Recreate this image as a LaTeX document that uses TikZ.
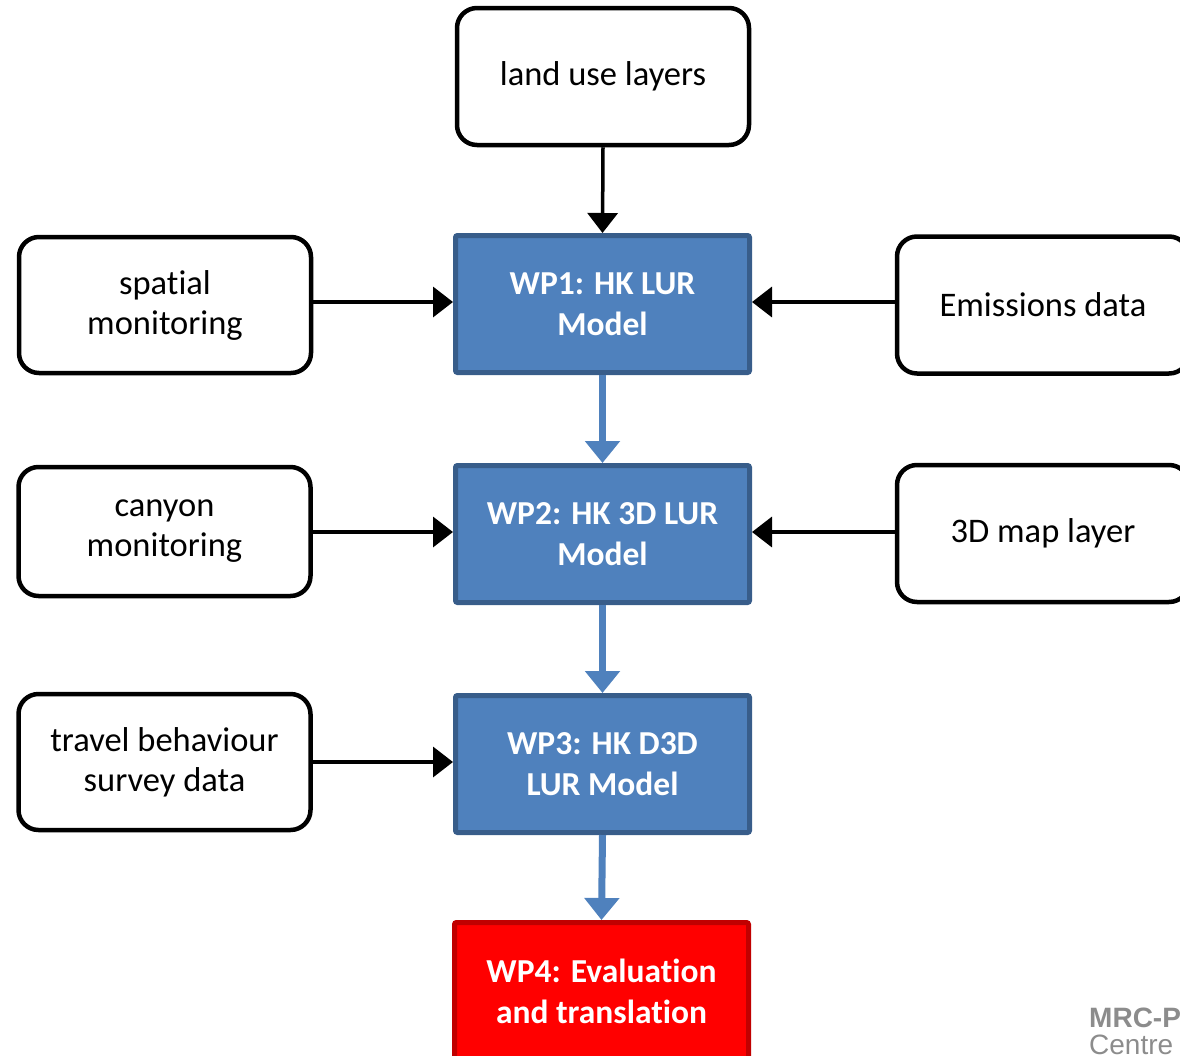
\documentclass[tikz,border=0pt]{standalone}
\usepackage{fontspec}
\setmainfont{Carlito}[Ligatures=NoCommon]
\newfontfamily\arialfont{Liberation Sans}
\usetikzlibrary{arrows.meta}
\definecolor{wpblue}{HTML}{4F81BD}
\definecolor{wpborder}{HTML}{385D8A}
\definecolor{wpred}{HTML}{FF0000}
\definecolor{wpredborder}{HTML}{C00000}
\definecolor{logogray}{HTML}{8C8C8C}
\tikzset{
  inbox/.style={draw=black, line width=4.5pt, rounded corners=20pt, fill=white,
    minimum width=292pt, minimum height=136pt, inner sep=0pt, align=center,
    font=\fontsize{34.5}{40}\selectfont},
  wpbox/.style={draw=wpborder, fill=wpblue, line width=5pt, rounded corners=2pt,
    minimum width=294pt, minimum height=137pt, inner sep=0pt, align=center,
    text=white, font=\fontsize{33.5}{41}\selectfont\bfseries},
  redbox/.style={wpbox, draw=wpredborder, fill=wpred},
  blackarrow/.style={draw=black, line width=3.5pt, -{Triangle[width=30pt,length=20pt]}},
  bluearrow/.style={draw=wpblue, line width=7pt, -{Triangle[width=34pt,length=22pt]}},
}
\begin{document}
\begin{tikzpicture}[x=1pt,y=-1pt]
\useasboundingbox (0,0) rectangle (1180,1055);
\clip (0,0) rectangle (1180,1055);
\node[inbox, minimum height=137pt] (land) at (603,76.5) {land use layers};
\node[wpbox] (wp1) at (602.5,304) {WP1: HK LUR\\Model};
\node[inbox] (spatial) at (165,305) {spatial\\monitoring};
\node[inbox, minimum height=137pt] (emis) at (1043,305) {Emissions data};
\node[wpbox] (wp2) at (602.5,534) {WP2: HK 3D LUR\\Model};
\node[inbox, minimum height=129pt] (canyon) at (164.5,531.5) {canyon\\monitoring};
\node[inbox, minimum height=137pt] (map) at (1043,533.5) {3D map layer};
\node[wpbox] (wp3) at (602.5,764) {WP3: HK D3D\\LUR Model};
\node[inbox, minimum height=136pt] (travel) at (164.5,762) {travel behaviour\\survey data};
\node[redbox] (wp4) at (601.5,991) {WP4: Evaluation\\and translation};

\draw[blackarrow] (land.south) -- (wp1.north);
\draw[blackarrow] (spatial.east |- 0,302) -- (wp1.west |- 0,302);
\draw[blackarrow] (emis.west |- 0,302) -- (wp1.east |- 0,302);
\draw[blackarrow] (canyon.east |- 0,532) -- (wp2.west |- 0,532);
\draw[blackarrow] (map.west |- 0,532) -- (wp2.east |- 0,532);
\draw[blackarrow] (travel.east |- 0,762) -- (wp3.west |- 0,762);
\draw[bluearrow] (wp1.south) -- (wp2.north);
\draw[bluearrow] (wp2.south) -- (wp3.north);
\draw[bluearrow] (wp3.south) -- (wp4.north);

\node[anchor=west, inner sep=0pt, text=logogray, font=\arialfont\fontsize{28}{30}\selectfont\bfseries] (mrc) at (1089,1018) {MRC-P};
\node[anchor=west, inner sep=0pt, text=logogray, font=\arialfont\fontsize{28}{30}\selectfont] (centre) at (1089,1045) {Centre};
\end{tikzpicture}
\end{document}
